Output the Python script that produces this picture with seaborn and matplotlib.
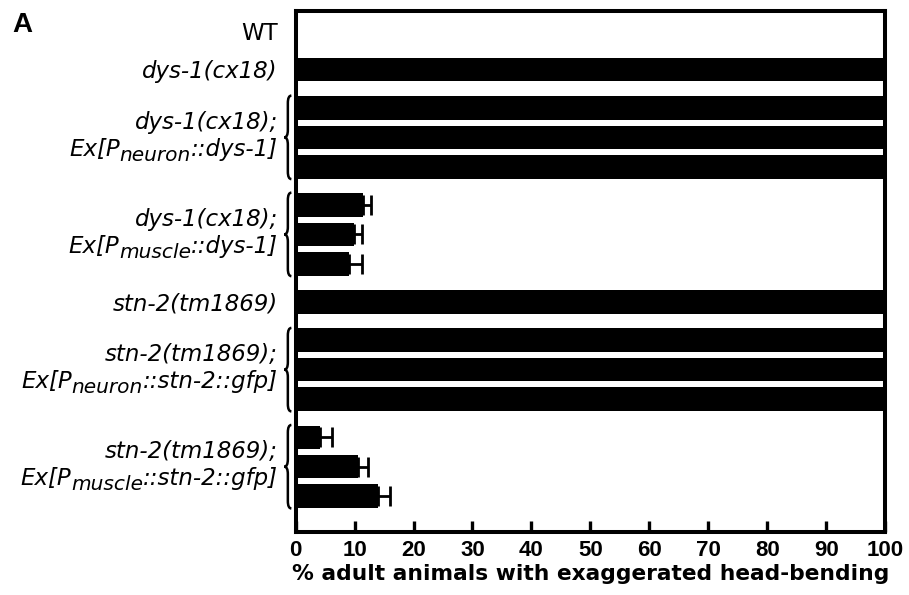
import numpy as np
import pandas as pd
import seaborn as sns
from matplotlib import pyplot as plt
from matplotlib import transforms
from matplotlib.path import Path
from matplotlib.patches import PathPatch

# strains, one entry per group of rows: line 1, line 2 as (text, subscript, text)
group_labels = [
    ('WT', None),
    ('dys-1(cx18)', None),
    ('dys-1(cx18);', ('Ex[P', 'neuron', '::dys-1]')),
    ('dys-1(cx18);', ('Ex[P', 'muscle', '::dys-1]')),
    ('stn-2(tm1869)', None),
    ('stn-2(tm1869);', ('Ex[P', 'neuron', '::stn-2::gfp]')),
    ('stn-2(tm1869);', ('Ex[P', 'muscle', '::stn-2::gfp]')),
]
group_sizes = [1, 1, 3, 3, 1, 3, 3]

# % animals with exaggerated head-bending, one value per bar
pct = [0, 100, 100, 100, 100, 11.5, 9.9, 9.0, 100, 100, 100, 100, 4.2, 10.6, 14.0]
sem = [0, 0, 0, 0, 0, 1.3, 1.4, 2.3, 0, 0, 0, 0, 2.0, 1.7, 2.0]

xticks = [0, 10, 20, 30, 40, 50, 60, 70, 80, 90, 100]
xlabel = '% adult animals with exaggerated head-bending'

# row positions: step 1 inside a group, wider gap between groups
group_gap = 1.3
pos = []
y = -group_gap
for n in group_sizes:
    y += group_gap
    for k in range(n):
        pos.append(y + k)
    y = pos[-1]

df = pd.DataFrame({'pos': pos, 'pct': pct, 'sem': sem})

sns.set_style('ticks')
plt.rcParams['font.family'] = ['DejaVu Sans']
plt.rcParams['text.color'] = 'black'
plt.rcParams['axes.labelcolor'] = 'black'
plt.rcParams['xtick.color'] = 'black'

fig = plt.figure(figsize=(9.09, 5.95), dpi=100)
ax = fig.add_axes([0.3251, 0.1059, 0.649, 0.8748])

sns.barplot(data=df, x='pct', y='pos', orient='h', native_scale=True,
            color='black', width=0.8, errorbar=None, linewidth=0,
            saturation=1, ax=ax)

# one sided error bars (only where there is one)
e = df[df['sem'] > 0]
ax.errorbar(e['pct'], e['pos'], xerr=[np.zeros(len(e)), e['sem']],
            fmt='none', ecolor='black', elinewidth=2, capsize=7.5, capthick=2)

ax.set_xlim(0, 100)
ax.set_ylim(pos[-1] + 1.22, -0.68)
ax.set_xticks(xticks)
ax.set_xticklabels([str(t) for t in xticks], fontsize=16, fontweight='bold',
                   fontfamily='Liberation Sans')
ax.set_yticks([])
ax.set_ylabel('')
ax.set_xlabel(xlabel, fontsize=15.7, fontweight='bold', labelpad=2)
ax.tick_params(axis='x', direction='in', length=8, width=2.4, pad=6)
for s in ax.spines.values():
    s.set_visible(True)
    s.set_linewidth(2.9)
    s.set_color('black')

# row labels and braces
blend = transforms.blended_transform_factory(ax.transAxes, ax.transData)
renderer = fig.canvas.get_renderer()
fs = 16.5
lab_x = -0.030
lab = dict(ha='right', va='baseline', clip_on=False)
i = 0
for (l1, l2), n in zip(group_labels, group_sizes):
    rows = pos[i:i + n]
    i += n
    style = 'normal' if l1 == 'WT' else 'italic'
    if l2 is None:
        ax.text(lab_x, rows[0] + 0.28, l1, fontstyle=style, fontsize=fs,
                transform=blend, **lab)
        continue
    mid = np.mean(rows)
    ax.text(lab_x, mid - 0.30, l1, fontstyle=style, fontsize=fs,
            transform=blend, **lab)
    # second line built right to left so the subscript can be larger
    head, sub, tail = l2
    yb2 = mid + 0.62
    t3 = ax.text(lab_x, yb2, tail, fontstyle=style, fontsize=fs,
                 transform=blend, **lab)
    w3 = t3.get_window_extent(renderer).width
    t2 = ax.text(lab_x, yb2, sub, fontstyle=style, fontsize=fs * 0.88,
                 transform=transforms.offset_copy(blend, fig, x=-w3, y=-5,
                                                  units='dots'), **lab)
    w2 = t2.get_window_extent(renderer).width
    ax.text(lab_x, yb2, head, fontstyle=style, fontsize=fs,
            transform=transforms.offset_copy(blend, fig, x=-(w3 + w2), y=0,
                                             units='dots'), **lab)
    # curly brace "{"
    xl, xr = -0.019, -0.007
    xm = (xl + xr) / 2
    yt, yb, r = rows[0] - 0.42, rows[-1] + 0.42, 0.25
    verts = [(xr, yt), (xm, yt), (xm, yt + r),
             (xm, mid - r),
             (xm, mid), (xl, mid),
             (xm, mid), (xm, mid + r),
             (xm, yb - r),
             (xm, yb), (xr, yb)]
    codes = [Path.MOVETO, Path.CURVE3, Path.CURVE3,
             Path.LINETO,
             Path.CURVE3, Path.CURVE3,
             Path.CURVE3, Path.CURVE3,
             Path.LINETO,
             Path.CURVE3, Path.CURVE3]
    ax.add_patch(PathPatch(Path(verts, codes), transform=blend, fill=False,
                           lw=1.8, edgecolor='black', clip_on=False))

fig.text(0.013, 0.946, 'A', fontsize=20, fontweight='bold', va='baseline',
         fontfamily='Liberation Sans')

fig.savefig('out.png', dpi=100)
